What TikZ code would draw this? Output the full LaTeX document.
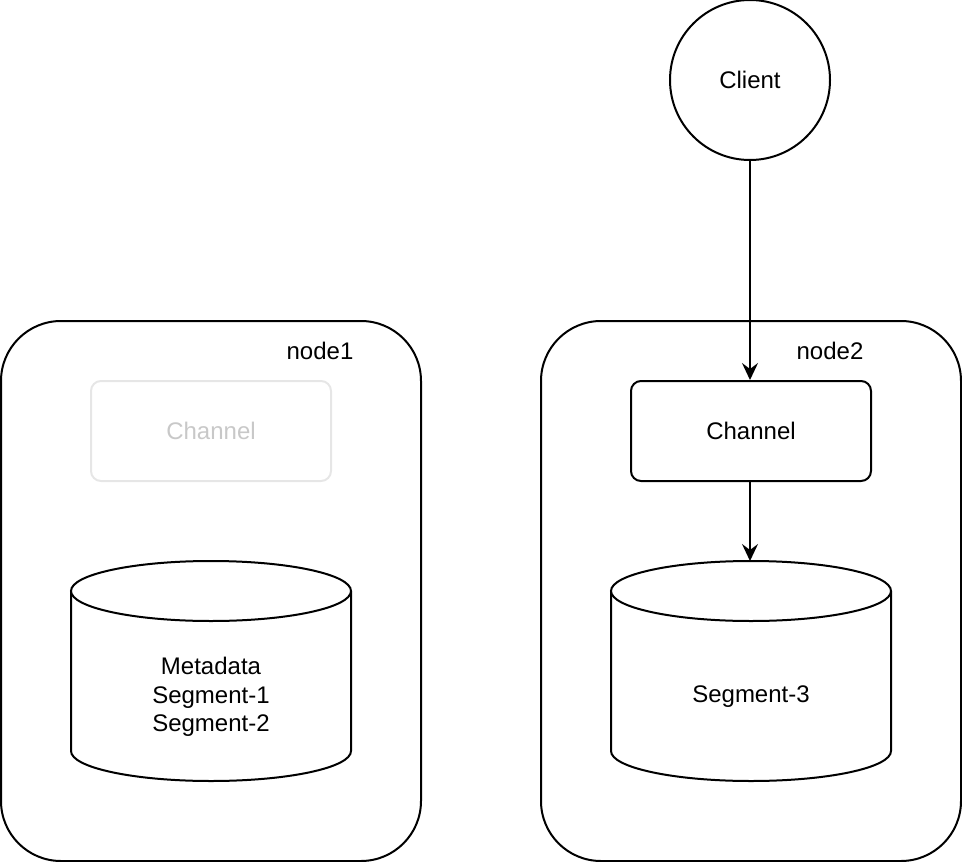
\documentclass[tikz,border=0pt]{standalone}
\usepackage{fontspec}
\setmainfont{Liberation Sans}
\usetikzlibrary{arrows.meta}
\definecolor{faintline}{HTML}{E6E6E6}
\definecolor{fainttext}{HTML}{C8C8C8}
\tikzset{
  every node/.style={font=\fontsize{24}{28.5}\selectfont},
  hostbox/.style={draw, line width=2pt, rounded corners=60pt, minimum width=420pt, minimum height=540pt, inner sep=0pt},
  chanbox/.style={draw, line width=2pt, rounded corners=10pt, minimum width=240pt, minimum height=100pt, inner sep=0pt},
  ghostbox/.style={chanbox, draw=faintline, text=fainttext},
  clientcirc/.style={draw, circle, line width=2pt, minimum size=160pt, inner sep=0pt},
  cyl/.style={draw, line width=2pt, fill=white},
  arr/.style={line width=2pt, -{Stealth[length=17pt,width=16pt,inset=6pt]}},
  lbl/.style={inner sep=0pt, align=center}
}
\begin{document}
\begin{tikzpicture}[x=1pt,y=-1pt]
\useasboundingbox (0,0) rectangle (962,862);
% host boxes
\node[hostbox] (host1) at (211,591) {};
\node[hostbox] (host2) at (751,591) {};
\node[lbl] (host1lbl) at (320,351) {node1};
\node[lbl] (host2lbl) at (830,351) {node2};
% client
\node[clientcirc] (client) at (750,80) {Client};
% channels
\node[ghostbox] (ch1) at (211,431) {Channel};
\node[chanbox] (ch2) at (751,431) {Channel};
% cylinder 1
\draw[cyl] (71,591) -- (71,751) arc[start angle=180,end angle=0,x radius=140,y radius=30] -- (351,591);
\draw[cyl] (211,591) ellipse [x radius=140, y radius=30];
\node[lbl] (cyl1) at (211,697) {Metadata\\Segment-1\\Segment-2};
% cylinder 2
\draw[cyl] (611,591) -- (611,751) arc[start angle=180,end angle=0,x radius=140,y radius=30] -- (891,591);
\draw[cyl] (751,591) ellipse [x radius=140, y radius=30];
\coordinate (cyl2top) at (750,561);
\node[lbl] (cyl2) at (751,697) {Segment-3};
% arrows
\draw[arr] (client.south) -- (ch2.north -| client.south);
\draw[arr] (ch2.south -| client.south) -- (cyl2top);
\end{tikzpicture}
\end{document}
